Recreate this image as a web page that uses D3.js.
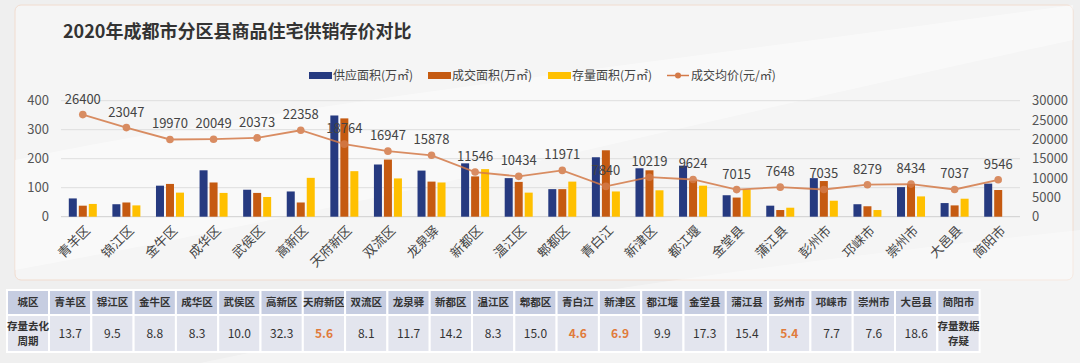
<!DOCTYPE html>
<html>
<head>
<meta charset="utf-8">
<script src="https://cdn.jsdelivr.net/npm/d3@7"></script>
<style>
  html, body { margin: 0; padding: 0; background: #eeeeee; }
  svg { display: block; font-family: "Noto Sans CJK SC", "Noto Sans", sans-serif; }
</style>
</head>
<body>
<div id="chart"></div>
<script>
// data
var districts = ["青羊区", "锦江区", "金牛区", "成华区", "武侯区", "高新区", "天府新区", "双流区", "龙泉驿", "新都区", "温江区",
                 "郫都区", "青白江", "新津区", "都江堰", "金堂县", "蒲江县", "彭州市", "邛崃市", "崇州市", "大邑县", "简阳市"];
var supplyArea = [63, 43, 107, 160, 93, 87, 349, 180, 159, 184, 133, 95, 205, 167, 176, 74, 38, 133, 43, 102, 47, 114];
var dealArea   = [38, 49, 113, 118, 82, 49, 339, 197, 121, 139, 120, 95, 229, 160, 124, 66, 23, 123, 36, 113, 39, 92];
var stockArea  = [44, 39, 83, 82, 68, 134, 157, 132, 118, 164, 83, 121, 87, 91, 107, 94, 31, 55, 23, 70, 62, null];
var avgPrice   = [26400, 23047, 19970, 20049, 20373, 22358, 18764, 16947, 15878, 11546, 10434,
                  11971, 7840, 10219, 9624, 7015, 7648, 7035, 8279, 8434, 7037, 9546];
var cycleText  = ["13.7", "9.5", "8.8", "8.3", "10.0", "32.3", "5.6", "8.1", "11.7", "14.2", "8.3",
                  "15.0", "4.6", "6.9", "9.9", "17.3", "15.4", "5.4", "7.7", "7.6", "18.6", "存量数据|存疑"];
var highlight  = ["天府新区", "青白江", "新津区", "彭州市"];
var leftTicks  = [0, 100, 200, 300, 400];
var rightTicks = [0, 5000, 10000, 15000, 20000, 25000, 30000];

var seriesNames = ["供应面积(万㎡)", "成交面积(万㎡)", "存量面积(万㎡)"];
var barColors   = ["#263a80", "#c55a11", "#ffc000"];
var lineColor   = "#d47a48";

var W = 1080, H = 363;
var svg = d3.select("#chart").append("svg")
    .attr("width", W)
    .attr("height", H);

// background + card
svg.append("rect").attr("width", W).attr("height", H).attr("fill", "#efefef");
svg.append("rect")
    .attr("x", 15).attr("y", 5).attr("width", 1058).attr("height", 275)
    .attr("rx", 6).attr("fill", "#f5f5f5").attr("stroke", "#f1dccf");
svg.append("path")
    .attr("d", "M15,160 C250,110 600,70 1073,5 L1073,40 C700,120 400,200 15,270 Z")
    .attr("fill", "#ffffff").attr("opacity", 0.45);
svg.append("path")
    .attr("d", "M200,363 C500,300 800,260 1080,230 L1080,363 Z")
    .attr("fill", "#ffffff").attr("opacity", 0.35);

// title
svg.append("text")
    .attr("x", 63).attr("y", 38)
    .attr("font-size", 18).attr("font-weight", "bold").attr("fill", "#333")
    .text("2020年成都市分区县商品住宅供销存价对比");

// scales
var x = d3.scaleBand().domain(districts).range([61, 1020]);
var xSub = d3.scaleBand().domain([0, 1, 2]).range([-14, 14]).paddingInner(0.2);
var y = d3.scaleLinear().domain([0, 400]).range([216.7, 100.7]);
var y2 = d3.scaleLinear().domain([0, 30000]).range([216.7, 100.7]);
var cx = function(d) { return x(d) + x.bandwidth() / 2; };

// gridlines
svg.append("g").selectAll("line")
    .data(leftTicks)
    .join("line")
    .attr("x1", 61).attr("x2", 1020)
    .attr("y1", function(d) { return y(d); }).attr("y2", function(d) { return y(d); })
    .attr("stroke", function(d) { return d == 0 ? "#cfcfcf" : "#dedede"; })
    .attr("stroke-width", 1);

// left axis labels
svg.append("g").selectAll("text")
    .data(leftTicks)
    .join("text")
    .attr("x", 49).attr("y", function(d) { return y(d); })
    .attr("dy", "0.35em").attr("text-anchor", "end")
    .attr("font-size", 13).attr("fill", "#555")
    .text(function(d) { return d; });

// right axis labels
svg.append("g").selectAll("text")
    .data(rightTicks)
    .join("text")
    .attr("x", 1032).attr("y", function(d) { return y2(d); })
    .attr("dy", "0.35em").attr("text-anchor", "start")
    .attr("font-size", 13).attr("fill", "#555")
    .text(function(d) { return d; });

// bars
var series = [supplyArea, dealArea, stockArea];
series.forEach(function(vals, si) {
    svg.append("g").selectAll("rect")
        .data(districts.map(function(d, i) { return {name: d, v: vals[i]}; }).filter(function(d) { return d.v != null; }))
        .join("rect")
        .attr("x", function(d) { return cx(d.name) + xSub(si); })
        .attr("width", xSub.bandwidth())
        .attr("y", function(d) { return y(d.v); })
        .attr("height", function(d) { return y(0) - y(d.v); })
        .attr("fill", barColors[si]);
});

// price line
var priceData = districts.map(function(d, i) { return {name: d, v: avgPrice[i]}; });
var line = d3.line()
    .x(function(d) { return cx(d.name); })
    .y(function(d) { return y2(d.v); });
var lineG = svg.append("g").attr("opacity", 0.85);
lineG.append("path")
    .datum(priceData)
    .attr("fill", "none").attr("stroke", lineColor).attr("stroke-width", 1.8)
    .attr("d", line);
lineG.selectAll("circle")
    .data(priceData)
    .join("circle")
    .attr("cx", function(d) { return cx(d.name); })
    .attr("cy", function(d) { return y2(d.v); })
    .attr("r", 3.8).attr("fill", lineColor);
svg.append("g").selectAll("text")
    .data(priceData)
    .join("text")
    .attr("x", function(d) { return cx(d.name); })
    .attr("y", function(d) { return y2(d.v) - 11; })
    .attr("text-anchor", "middle")
    .attr("font-size", 13).attr("fill", "#444")
    .text(function(d) { return d.v; });

// category labels
svg.append("g").selectAll("text")
    .data(districts)
    .join("text")
    .attr("transform", function(d) { return "translate(" + (cx(d) + 5) + ",228) rotate(-45)"; })
    .attr("dy", "0.35em").attr("text-anchor", "end")
    .attr("font-size", 13).attr("fill", "#444")
    .text(function(d) { return d; });

// legend
var legendX = [309, 428, 548];
seriesNames.forEach(function(name, i) {
    svg.append("rect")
        .attr("x", legendX[i]).attr("y", 72).attr("width", 23).attr("height", 7)
        .attr("fill", barColors[i]);
    svg.append("text")
        .attr("x", legendX[i] + 24).attr("y", 76).attr("dy", "0.35em")
        .attr("font-size", 12).attr("fill", "#444")
        .text(name);
});
svg.append("line")
    .attr("x1", 667).attr("x2", 689).attr("y1", 75.5).attr("y2", 75.5)
    .attr("stroke", lineColor).attr("stroke-width", 1.5);
svg.append("circle").attr("cx", 678).attr("cy", 75.5).attr("r", 3).attr("fill", lineColor);
svg.append("text")
    .attr("x", 691).attr("y", 76).attr("dy", "0.35em")
    .attr("font-size", 12).attr("fill", "#444")
    .text("成交均价(元/㎡)");

// table
var tx0 = 7, firstW = 42, colW = 42.3, headY = 290, headH = 25, rowH = 37;
var table = svg.append("g");
var cols = ["城区"].concat(districts);
var colX = function(i) { return i == 0 ? tx0 : tx0 + firstW + (i - 1) * colW; };
var colWidth = function(i) { return i == 0 ? firstW : colW; };

cols.forEach(function(c, i) {
    table.append("rect")
        .attr("x", colX(i)).attr("y", headY).attr("width", colWidth(i)).attr("height", headH)
        .attr("fill", "#c6cde1").attr("stroke", "#ffffff").attr("stroke-width", 2);
    table.append("rect")
        .attr("x", colX(i)).attr("y", headY + headH).attr("width", colWidth(i)).attr("height", rowH)
        .attr("fill", "#e3e5ee").attr("stroke", "#ffffff").attr("stroke-width", 2);
    table.append("text")
        .attr("x", colX(i) + colWidth(i) / 2).attr("y", headY + headH / 2).attr("dy", "0.35em")
        .attr("text-anchor", "middle").attr("font-size", 10.5).attr("font-weight", "bold").attr("fill", "#333")
        .text(c);
});

var rowCells = ["存量去化|周期"].concat(cycleText);
var midY = headY + headH + rowH / 2;
rowCells.forEach(function(v, i) {
    var parts = v.split("|");
    var hl = i > 0 && highlight.indexOf(districts[i - 1]) >= 0;
    var cxCell = colX(i) + colWidth(i) / 2;
    if (parts.length == 1) {
        table.append("text")
            .attr("x", cxCell).attr("y", midY).attr("dy", "0.35em")
            .attr("text-anchor", "middle")
            .attr("font-size", 12)
            .attr("font-weight", hl ? "bold" : "normal")
            .attr("fill", hl ? "#e07b3c" : "#333")
            .text(v);
    } else {
        parts.forEach(function(p, k) {
            table.append("text")
                .attr("x", cxCell).attr("y", midY - 7.5 + k * 15).attr("dy", "0.35em")
                .attr("text-anchor", "middle")
                .attr("font-size", 10.5).attr("font-weight", "bold").attr("fill", "#333")
                .text(p);
        });
    }
});
</script>
</body>
</html>
